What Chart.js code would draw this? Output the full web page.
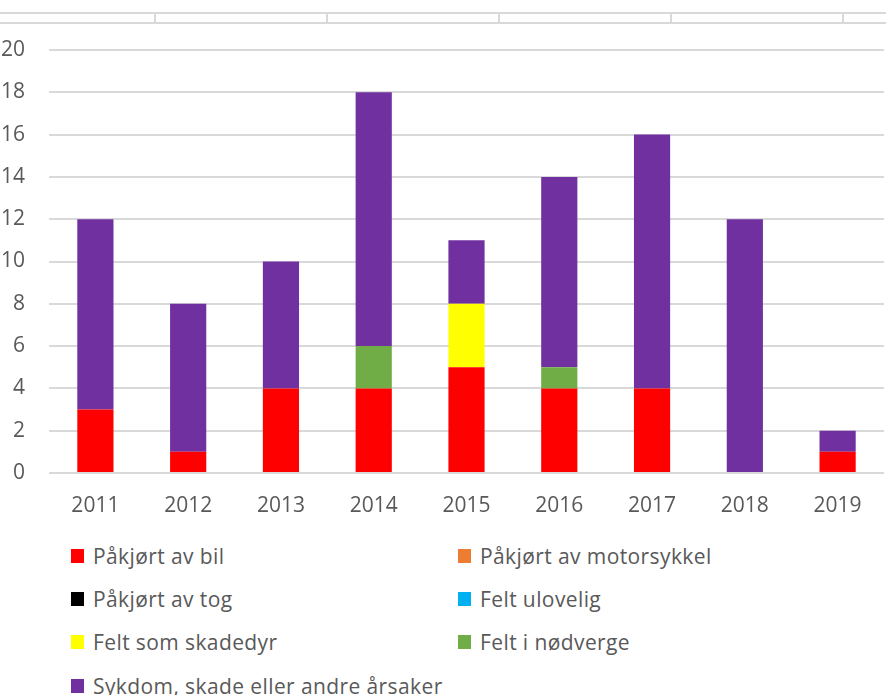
<!DOCTYPE html>
<html lang="no">
<head>
<meta charset="UTF-8">
<title>Årsaker</title>
<script src="https://cdn.jsdelivr.net/npm/chart.js"></script>
<style>
  body { margin: 0; background: #fff; font-family: "Open Sans", sans-serif; }
  #wrap { position: relative; width: 886px; height: 695px; overflow: hidden; }
  #viz { position: absolute; left: 0; top: 0; }
  .hline { position: absolute; left: 0; width: 886px; height: 2px; background: #d9d9d9; }
  .vline { position: absolute; top: 13px; width: 2px; height: 10px; background: #d9d9d9; }
  .item { position: absolute; font-size: 21px; color: #595959; white-space: nowrap; line-height: 26px; letter-spacing: 0.4px; }
  .item span.box { position: absolute; left: 0; top: 6px; width: 13px; height: 14px; }
  .item span.txt { position: absolute; left: 22px; top: 0; }
</style>
<script>
  const years = ['2011', '2012', '2013', '2014', '2015', '2016', '2017', '2018', '2019']

  const bil = [3, 1, 4, 4, 5, 4, 4, 0, 1]
  const motorsykkel = [0, 0, 0, 0, 0, 0, 0, 0, 0]
  const tog = [0, 0, 0, 0, 0, 0, 0, 0, 0]
  const ulovelig = [0, 0, 0, 0, 0, 0, 0, 0, 0]
  const skadedyr = [0, 0, 0, 0, 3, 0, 0, 0, 0]
  const nodverge = [0, 0, 0, 2, 0, 1, 0, 0, 0]
  const sykdom = [9, 7, 6, 12, 3, 9, 12, 12, 1]

  const seriesNames = [
    'Påkjørt av bil', 'Påkjørt av motorsykkel', 'Påkjørt av tog', 'Felt ulovelig',
    'Felt som skadedyr', 'Felt i nødverge', 'Sykdom, skade eller andre årsaker'
  ]
  const seriesColors = ['#ff0000', '#ed7d31', '#000000', '#00b0f0', '#ffff00', '#70ad47', '#7030a0']
  const seriesData = [bil, motorsykkel, tog, ulovelig, skadedyr, nodverge, sykdom]

  const yTicks = [0, 2, 4, 6, 8, 10, 12, 14, 16, 18, 20]

  window.onload = () => {
    const wrap = document.getElementById('wrap')

    // faint table border left over at the top
    ;[12, 22].forEach(y => {
      const d = document.createElement('div')
      d.className = 'hline'
      d.style.top = y + 'px'
      wrap.appendChild(d)
    })
    ;[154, 326, 498, 670, 842].forEach(x => {
      const d = document.createElement('div')
      d.className = 'vline'
      d.style.left = x + 'px'
      wrap.appendChild(d)
    })

    const viz = document.getElementById('viz')
    new Chart(viz, {
      type: 'bar',
      data: {
        labels: years,
        datasets: seriesNames.map((name, i) => ({
          label: name,
          data: seriesData[i],
          backgroundColor: seriesColors[i],
          borderWidth: 0,
          barPercentage: 0.39,
          categoryPercentage: 1
        }))
      },
      options: {
        responsive: false,
        animation: false,
        layout: { padding: { top: 50, right: 2, left: 0, bottom: 0 } },
        plugins: { legend: { display: false }, tooltip: { enabled: false } },
        scales: {
          x: {
            stacked: true,
            grid: { display: false },
            border: { display: false },
            ticks: { color: '#595959', font: { family: 'Open Sans', size: 21 }, padding: 12, maxRotation: 0 },
            afterFit: s => { s.height = 57 }
          },
          y: {
            stacked: true,
            min: 0,
            max: 20,
            afterBuildTicks: s => { s.ticks = yTicks.map(v => ({ value: v })) },
            grid: { color: '#d9d9d9', lineWidth: 2, drawTicks: false },
            border: { display: false },
            ticks: { color: '#595959', font: { family: 'Open Sans', size: 21 }, padding: 24 },
            afterFit: s => { s.width = 49 }
          }
        }
      }
    })

    // legend in two columns, as in the reference
    const colX = [71, 458]
    const rowY = [556, 599, 642, 686]
    seriesNames.forEach((name, i) => {
      const it = document.createElement('div')
      it.className = 'item'
      it.style.left = colX[i % 2] + 'px'
      it.style.top = (rowY[Math.floor(i / 2)] - 13) + 'px'
      it.innerHTML = '<span class="box" style="background:' + seriesColors[i] + '"></span><span class="txt">' + name + '</span>'
      wrap.appendChild(it)
    })
  }
</script>
</head>
<body>
  <div id="wrap">
    <canvas id="viz" width="886" height="530"></canvas>
  </div>
</body>
</html>
